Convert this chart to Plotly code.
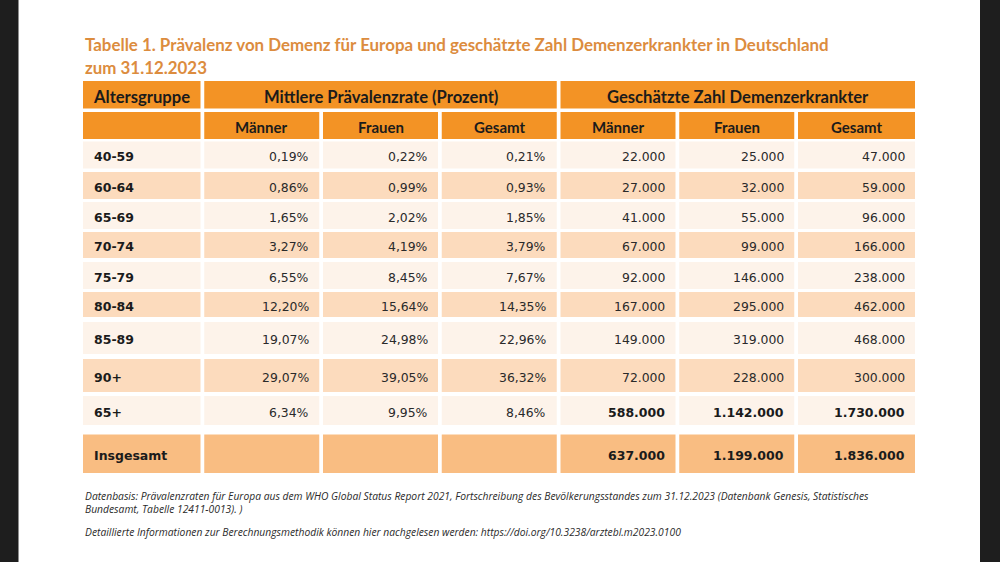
import plotly.graph_objects as go

# ---------------- data ----------------
title_lines = [
    "Tabelle 1. Prävalenz von Demenz für Europa und geschätzte Zahl Demenzerkrankter in Deutschland",
    "zum 31.12.2023",
]
group_headers = ["Altersgruppe", "Mittlere Prävalenzrate (Prozent)", "Geschätzte Zahl Demenzerkrankter"]
sub_headers = ["", "Männer", "Frauen", "Gesamt", "Männer", "Frauen", "Gesamt"]

age_groups = ["40-59", "60-64", "65-69", "70-74", "75-79", "80-84", "85-89", "90+", "65+", "Insgesamt"]
rate_men = [0.19, 0.86, 1.65, 3.27, 6.55, 12.20, 19.07, 29.07, 6.34, None]
rate_women = [0.22, 0.99, 2.02, 4.19, 8.45, 15.64, 24.98, 39.05, 9.95, None]
rate_total = [0.21, 0.93, 1.85, 3.79, 7.67, 14.35, 22.96, 36.32, 8.46, None]
count_men = [22000, 27000, 41000, 67000, 92000, 167000, 149000, 72000, 588000, 637000]
count_women = [25000, 32000, 55000, 99000, 146000, 295000, 319000, 228000, 1142000, 1199000]
count_total = [47000, 59000, 96000, 166000, 238000, 462000, 468000, 300000, 1730000, 1836000]
bold_count_rows = ["65+", "Insgesamt"]

footnotes = [
    "Datenbasis: Prävalenzraten für Europa aus dem WHO Global Status Report 2021, Fortschreibung des Bevölkerungsstandes zum 31.12.2023 (Datenbank Genesis, Statistisches",
    "Bundesamt, Tabelle 12411-0013). )",
    "Detaillierte Informationen zur Berechnungsmethodik können hier nachgelesen werden: https://doi.org/10.3238/arztebl.m2023.0100",
]

# ---------------- style / layout grid ----------------
W, H = 1000, 562
TABLE_LEFT = 83
COL_WIDTHS = [117.5, 115, 115, 115, 115, 115, 117]
COL_GAP = 3.75
ROW_TOPS = [81, 112, 141.5, 172, 202, 232, 262, 292, 322, 359, 396, 434.5]
ROW_BOTTOMS = [108.5, 139, 168.5, 199, 229, 258, 289, 317, 354, 392, 425, 473]

C_HEAD = "#F39325"
C_LIGHT = "#FDF3EA"
C_PEACH = "#FCDBBD"
C_TOTAL = "#F9BD82"
C_TITLE = "#DC8C3E"
C_TEXT = "#1b1b1b"
C_NUM = "#2a2a2a"
C_SIDE = "#1e1e1e"

HEAD_FONT = "Lato"
BODY_FONT = "DejaVu Sans"
NOTE_FONT = "Open Sans"

col_lefts = []
x = TABLE_LEFT
for w in COL_WIDTHS:
    col_lefts.append(x)
    x += w + COL_GAP
col_rights = [l + w for l, w in zip(col_lefts, COL_WIDTHS)]

shapes = []
annotations = []


def rect(x0, x1, y0, y1, color):
    shapes.append(dict(type="rect", xref="x", yref="y", x0=x0, x1=x1, y0=y0, y1=y1,
                       fillcolor=color, line=dict(width=0), layer="below"))


def text(x, y, s, size, family, color=C_TEXT, xanchor="center", weight="normal", style="normal"):
    annotations.append(dict(x=x, y=y, xref="x", yref="y", text=s, showarrow=False,
                            xanchor=xanchor, yanchor="middle",
                            font=dict(size=size, family=family, color=color, weight=weight, style=style)))


def fmt_pct(v):
    return "" if v is None else f"{v:.2f}".replace(".", ",") + "%"


def fmt_int(v):
    return f"{v:,}".replace(",", ".")


# side bars (screenshot frame)
rect(0, 18.5, 0, H, C_SIDE)
rect(980, W, 0, H, C_SIDE)

# title
title_y = [44, 67]
for s, yy in zip(title_lines, title_y):
    text(TABLE_LEFT, yy, s, 16.9, HEAD_FONT, C_TITLE, xanchor="left", weight="bold")

# header row 1 (merged groups)
spans = [(0, 0), (1, 3), (4, 6)]
y0, y1 = ROW_TOPS[0], ROW_BOTTOMS[0]
for label, (a, b) in zip(group_headers, spans):
    rect(col_lefts[a], col_rights[b], y0, y1, C_HEAD)
    text((col_lefts[a] + col_rights[b]) / 2, (y0 + y1) / 2 + 2.5, label, 16.6, HEAD_FONT, weight="bold")

# header row 2
y0, y1 = ROW_TOPS[1], ROW_BOTTOMS[1]
for j, label in enumerate(sub_headers):
    rect(col_lefts[j], col_rights[j], y0, y1, C_HEAD)
    if label:
        text((col_lefts[j] + col_rights[j]) / 2, (y0 + y1) / 2 + 1.5, label, 15, HEAD_FONT, weight="bold")

# body rows
for i, grp in enumerate(age_groups):
    r = i + 2
    y0, y1 = ROW_TOPS[r], ROW_BOTTOMS[r]
    yc = (y0 + y1) / 2 + 1.5
    if grp == "Insgesamt":
        color = C_TOTAL
    else:
        color = C_LIGHT if i % 2 == 0 else C_PEACH
    cells = [fmt_pct(rate_men[i]), fmt_pct(rate_women[i]), fmt_pct(rate_total[i]),
             fmt_int(count_men[i]), fmt_int(count_women[i]), fmt_int(count_total[i])]
    for j in range(7):
        rect(col_lefts[j], col_rights[j], y0, y1, color)
    text(col_lefts[0] + 9, yc, grp, 12.5, BODY_FONT, C_TEXT, xanchor="left", weight="bold")
    for j, s in enumerate(cells, start=1):
        bold = j >= 4 and grp in bold_count_rows
        text(col_rights[j] - 8.5, yc, s, 12.5 if bold else 12.4, BODY_FONT,
             C_TEXT if bold else C_NUM, xanchor="right",
             weight="bold" if bold else "normal")

# footnotes
note_y = [495.5, 508.5, 532]
for s, yy in zip(footnotes, note_y):
    text(TABLE_LEFT, yy, s, 10.3, NOTE_FONT, "#2a2a2a", xanchor="left", style="italic")

fig = go.Figure()
fig.add_trace(go.Scatter(x=[0, W], y=[0, H], mode="markers", marker=dict(opacity=0),
                         hoverinfo="skip", showlegend=False))
fig.update_layout(
    width=W, height=H, margin=dict(l=0, r=0, t=0, b=0),
    paper_bgcolor="white", plot_bgcolor="white",
    xaxis=dict(range=[0, W], visible=False, fixedrange=True),
    yaxis=dict(range=[H, 0], visible=False, fixedrange=True),
    shapes=shapes, annotations=annotations, showlegend=False,
)
fig.write_html(
    "out.html",
    config={"displayModeBar": False},
    post_script="document.body.style.margin='0px';document.body.style.overflow='hidden';",
)
